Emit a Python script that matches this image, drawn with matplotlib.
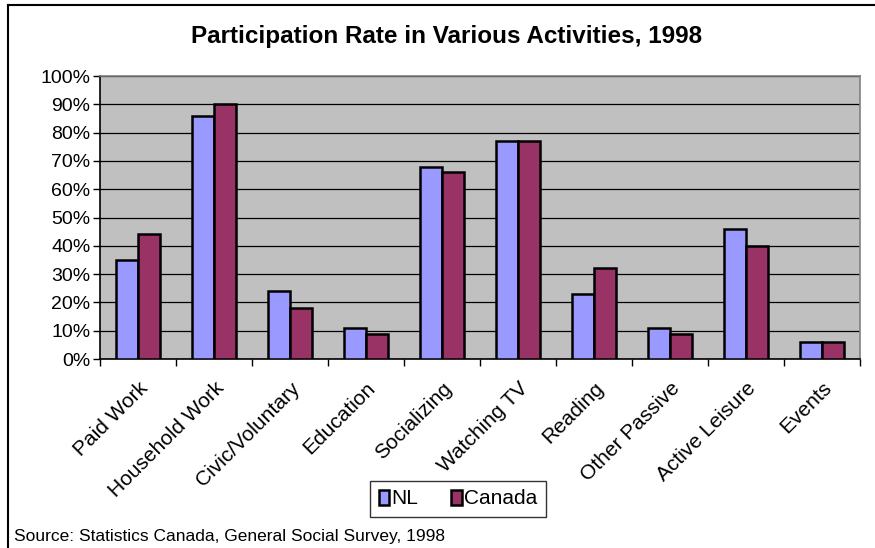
import matplotlib
matplotlib.use("Agg")
import matplotlib.pyplot as plt
import numpy as np
from matplotlib.ticker import FuncFormatter, FixedLocator
from matplotlib.lines import Line2D

plt.rcParams['font.family'] = ['Liberation Sans', 'DejaVu Sans']

categories = ["Paid Work", "Household Work", "Civic/Voluntary", "Education", "Socializing",
              "Watching TV", "Reading", "Other Passive", "Active Leisure", "Events"]
nl = [35, 86, 24, 11, 68, 77, 23, 11, 46, 6]
canada = [44, 90, 18, 9, 66, 77, 32, 9, 40, 6]
series_names = ["NL", "Canada"]
title = "Participation Rate in Various Activities, 1998"
source = "Source: Statistics Canada, General Social Survey, 1998"

W, H = 875, 548
fig = plt.figure(figsize=(W/100, H/100), dpi=100)
ax = fig.add_axes([100/W, 1-359/H, 760/W, 283/H])
ax.set_facecolor('#C0C0C0')

x = np.arange(len(categories))
w = 0.29
b1 = ax.bar(x - w/2, nl, w, color='#9999FF', edgecolor='black', linewidth=1.8, label=series_names[0], zorder=3)
b2 = ax.bar(x + w/2, canada, w, color='#993366', edgecolor='black', linewidth=1.8, label=series_names[1], zorder=3)

ax.set_xlim(-0.5, len(categories) - 0.5)
ax.set_ylim(0, 100)
ax.set_yticks(np.arange(0, 101, 10))
ax.yaxis.set_major_formatter(FuncFormatter(lambda v, p: f"{int(v)}%"))
ax.tick_params(axis='y', labelsize=14, length=5, width=1, direction='out', pad=2)
ax.grid(axis='y', color='black', linewidth=0.9, zorder=1)
ax.set_axisbelow(True)

ax.set_xticks(x)
ax.set_xticklabels(categories, rotation=45, ha='right', va='top', rotation_mode='anchor', fontsize=15)
ax.tick_params(axis='x', length=0, pad=14)
ax.xaxis.set_minor_locator(FixedLocator(np.arange(-0.5, len(categories), 1.0)))
ax.tick_params(axis='x', which='minor', length=5, width=1, direction='out')

for s in ['left', 'bottom']:
    ax.spines[s].set_color('black')
    ax.spines[s].set_linewidth(1.2)
for s in ['top', 'right']:
    ax.spines[s].set_color('#808080')
    ax.spines[s].set_linewidth(1.2)

fig.text(447/W, 1-36/H, title, ha='center', va='center', fontsize=17.5, fontweight='bold')
fig.text(14/W, 1-537/H, source, ha='left', va='center', fontsize=12.5)

leg = fig.legend(handles=[b1, b2], labels=series_names, loc='center', bbox_to_anchor=(458/W, 1-499/H),
                 ncol=2, fontsize=15, frameon=True, fancybox=False, edgecolor='black',
                 handlelength=0.5, handleheight=0.75, handletextpad=0.1, columnspacing=1.6,
                 borderpad=0.4, borderaxespad=0.0)
leg.get_frame().set_linewidth(1.0)

# outer chart border (top and left visible; right/bottom fall outside the image)
fig.add_artist(Line2D([8/W, 1.0], [1-5/H, 1-5/H], transform=fig.transFigure, color='black', linewidth=1.5))
fig.add_artist(Line2D([8/W, 8/W], [1-5/H, 0.0], transform=fig.transFigure, color='black', linewidth=1.5))

fig.savefig("out.png", dpi=100, facecolor='white')
